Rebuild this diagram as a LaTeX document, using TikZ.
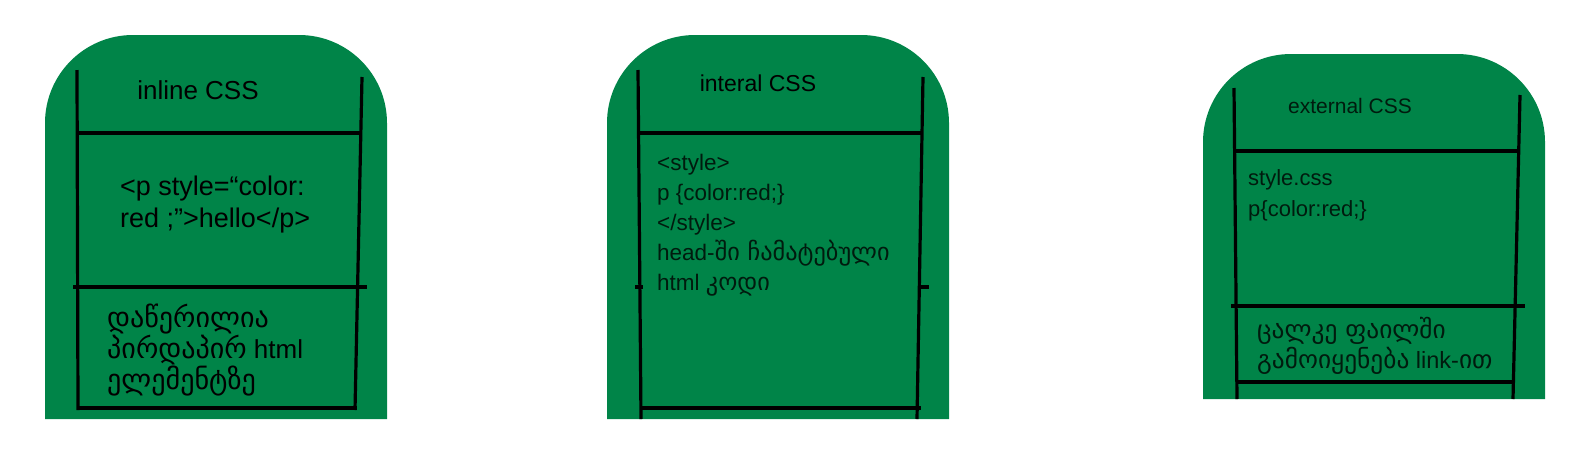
\documentclass[tikz,border=0pt]{standalone}
\usepackage{fontspec}
\setmainfont{Liberation Sans}
\newfontfamily\geofont[Scale=1.08]{DejaVu Sans}
\newcommand\geo[1]{{\geofont #1}}
\definecolor{cssgreen}{RGB}{0,132,72}
\colorlet{cssdim}{black!80!cssgreen}
\tikzset{cardbg/.style={
  fill=cssgreen,
  draw=none,
  }
}
\tikzset{rule/.style={
  draw=black,
  line width=3.2pt,
  }
}
\tikzset{headtxt/.style={
  anchor=base,
  inner sep=0pt,
  text=black,
  }
}
% base anchor sits on the last line
\tikzset{bodytxt/.style={
  anchor=base west,
  align=left,
  inner sep=0pt,
  text=black,
  }
}

\begin{document}
\begin{tikzpicture}[x=1pt,y=-1pt]
  \useasboundingbox (0,0) rectangle (1592,472);

  % inline
  \fill[cardbg] (45,419) [rounded corners=88] -- (45,35) -- (387,35) [sharp corners] -- (387,419) -- cycle;
  \draw[rule] (77,70) -- (78,410);
  \draw[rule] (362,77) -- (355,410);
  \draw[rule] (77,133) -- (362,133);
  \draw[rule] (73,287) -- (367,287);
  \draw[rule] (77,408) -- (357,408);
  \node[headtxt, font=\fontsize{26}{30}\selectfont] (t1) at (198,99) {inline CSS};
  \node[bodytxt, font=\fontsize{27}{32}\selectfont] (c1) at (120,227)
    {<p style=“color:\\red ;”>hello</p>};
  \node[bodytxt, font=\fontsize{26}{29}\selectfont] (n1) at (107,389)
    {\geo{დაწერილია}\\\geo{პირდაპირ} html\\\geo{ელემენტზე}};

  % internal
  \fill[cardbg] (607,419) [rounded corners=88] -- (607,35) -- (949,35) [sharp corners] -- (949,419) -- cycle;
  \draw[rule] (638,70) -- (641,419);
  \draw[rule] (923,77) -- (917,419);
  \draw[rule] (638,133) -- (923,133);
  \draw[rule] (635,287) -- (643,287);
  \draw[rule] (918,287) -- (929,287);
  \draw[rule] (640,408) -- (921,408);
  \node[headtxt, font=\fontsize{23}{28}\selectfont] (t2) at (758,91) {interal CSS};
  \node[bodytxt, text=cssdim, font=\fontsize{22.5}{30}\selectfont] (c2) at (657,290)
    {<style>\\p \{color:red;\}\\</style>\\head-\geo{ში ჩამატებული}\\html \geo{კოდი}};

  % external
  \fill[cardbg] (1203,399) [rounded corners=88] -- (1203,54) -- (1545,54) [sharp corners] -- (1545,399) -- cycle;
  \draw[rule] (1234,88) -- (1237,399);
  \draw[rule] (1520,95) -- (1513,399);
  \draw[rule] (1234,151) -- (1520,151);
  \draw[rule] (1231,306) -- (1525,306);
  \draw[rule] (1237,382) -- (1513,382);
  \node[headtxt, text=cssdim, font=\fontsize{21}{26}\selectfont] (t3) at (1350,113) {external CSS};
  \node[bodytxt, text=cssdim, font=\fontsize{22}{31}\selectfont] (c3) at (1248,216)
    {style.css\\p\{color:red;\}};
  \node[bodytxt, text=cssdim, font=\fontsize{23.5}{30}\selectfont] (n3) at (1257,368)
    {\geo{ცალკე ფაილში}\\\geo{გამოიყენება} link-\geo{ით}};
\end{tikzpicture}
\end{document}
